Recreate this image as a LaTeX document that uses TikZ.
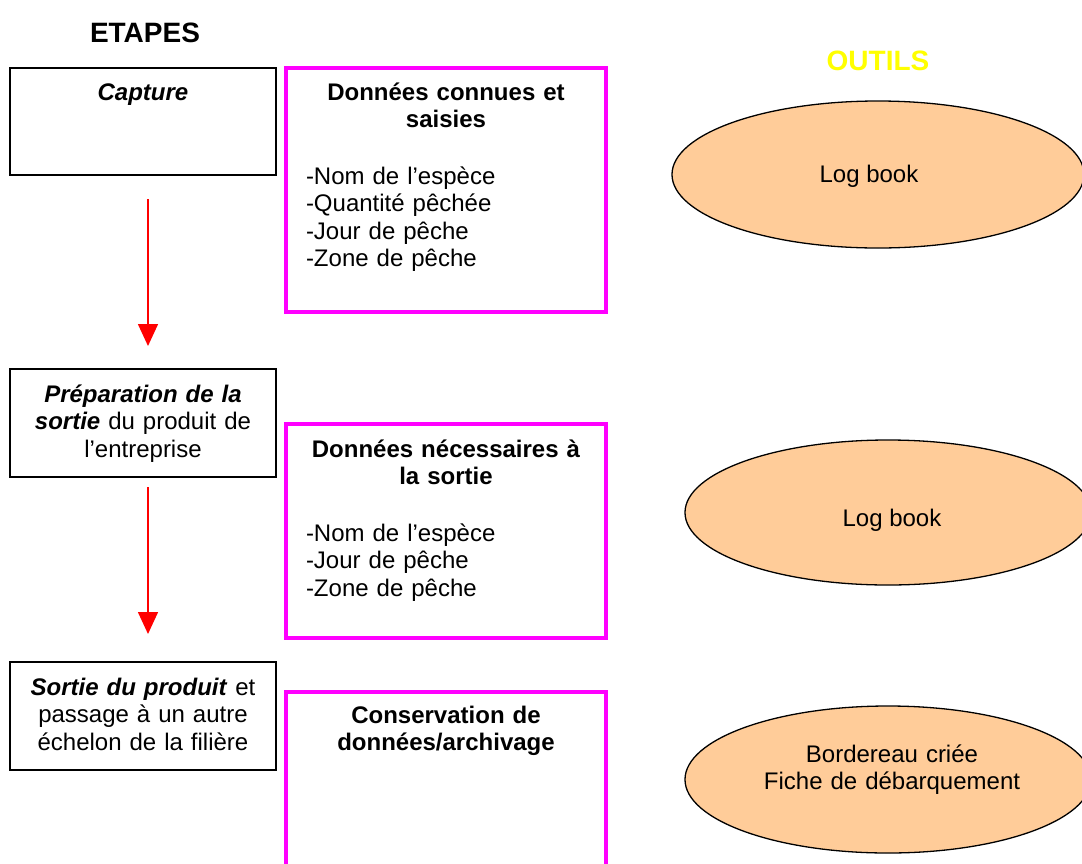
\documentclass[tikz,border=0pt]{standalone}
\usepackage{fontspec}
\setmainfont{Liberation Sans}
\usetikzlibrary{shapes.geometric,arrows.meta}
\definecolor{pinkframe}{HTML}{FF00FF}
\definecolor{toolfill}{HTML}{FFCC99}
\definecolor{headyellow}{HTML}{FFFF00}
\begin{document}
\begin{tikzpicture}[x=1pt,y=-1pt,
  every node/.style={inner sep=0pt, outer sep=0pt},
  txt/.style={font=\fontsize{24}{27.6}\selectfont},
  heading/.style={font=\fontsize{28}{32}\selectfont\bfseries},
  stagebox/.style={rectangle, draw=black, line width=1.5pt, minimum width=266pt},
  databox/.style={rectangle, draw=pinkframe, line width=4pt, minimum width=320pt},
  toolshape/.style={ellipse, draw=black, line width=1.3pt, fill=toolfill},
  centred/.style={txt, text width=262pt, align=center, anchor=base},
  listing/.style={txt, text width=290pt, align=left, anchor=base west},
  flow/.style={draw=red, line width=1.5pt, -{Triangle[width=20pt,length=22pt]}},
]
\useasboundingbox (0,0) rectangle (1082,863);
\clip (0,0) rectangle (1082,863);

% column headings
\node[heading, anchor=base] (etapes) at (145,42) {ETAPES};
\node[heading, anchor=base, text=headyellow] (outils) at (878,70) {OUTILS};

% stages
\node[stagebox, minimum height=107pt] (cap) at (143,121.5) {};
\node[centred] (captxt) at (143,100) {\textbf{\textit{Capture}}};

\node[stagebox, minimum height=108pt] (prep) at (143,423) {};
\node[centred] (preptxt) at (143,402)
  {\textbf{\textit{Préparation de la}}\\\textbf{\textit{sortie}} du produit de\\l’entreprise};

\node[stagebox, minimum height=108pt] (exit) at (143,716) {};
\node[centred] (exittxt) at (143,695)
  {\textbf{\textit{Sortie du produit}} et\\passage à un autre\\échelon de la filière};

% data frames
\node[databox, minimum height=244pt] (known) at (446,190) {};
\node[centred, text width=310pt] (knowntitle) at (446,100) {\textbf{Données connues et}\\\textbf{saisies}};
\node[listing] (knownlist) at (306,184)
  {-Nom de l’espèce\\-Quantité pêchée\\-Jour de pêche\\-Zone de pêche};

\node[databox, minimum height=214pt] (needed) at (446,531) {};
\node[centred, text width=310pt] (neededtitle) at (446,457) {\textbf{Données nécessaires à}\\\textbf{la sortie}};
\node[listing] (neededlist) at (306,541)
  {-Nom de l’espèce\\-Jour de pêche\\-Zone de pêche};

\node[databox, minimum height=200pt] (archive) at (446,792) {};
\node[centred, text width=310pt] (archivetitle) at (446,723) {\textbf{Conservation de}\\\textbf{données/archivage}};

% tools
\node[toolshape, minimum width=412pt, minimum height=147pt] (tool1) at (878,174.5) {};
\node[txt, anchor=base] (tool1txt) at (869,182) {Log book};

\node[toolshape, minimum width=406pt, minimum height=145pt] (tool2) at (888,512.5) {};
\node[txt, anchor=base] (tool2txt) at (892,526) {Log book};

\node[toolshape, minimum width=406pt, minimum height=147pt] (tool3) at (888,779.5) {};
\node[centred, text width=330pt] (tool3txt) at (892,762) {Bordereau criée\\Fiche de débarquement};

% flow between stages
\draw[flow, shorten <=24pt, shorten >=23pt] ([xshift=5pt]cap.south) -- ([xshift=5pt]prep.north);
\draw[flow, shorten <=10pt, shorten >=28pt] ([xshift=5pt]prep.south) -- ([xshift=5pt]exit.north);
\end{tikzpicture}
\end{document}
